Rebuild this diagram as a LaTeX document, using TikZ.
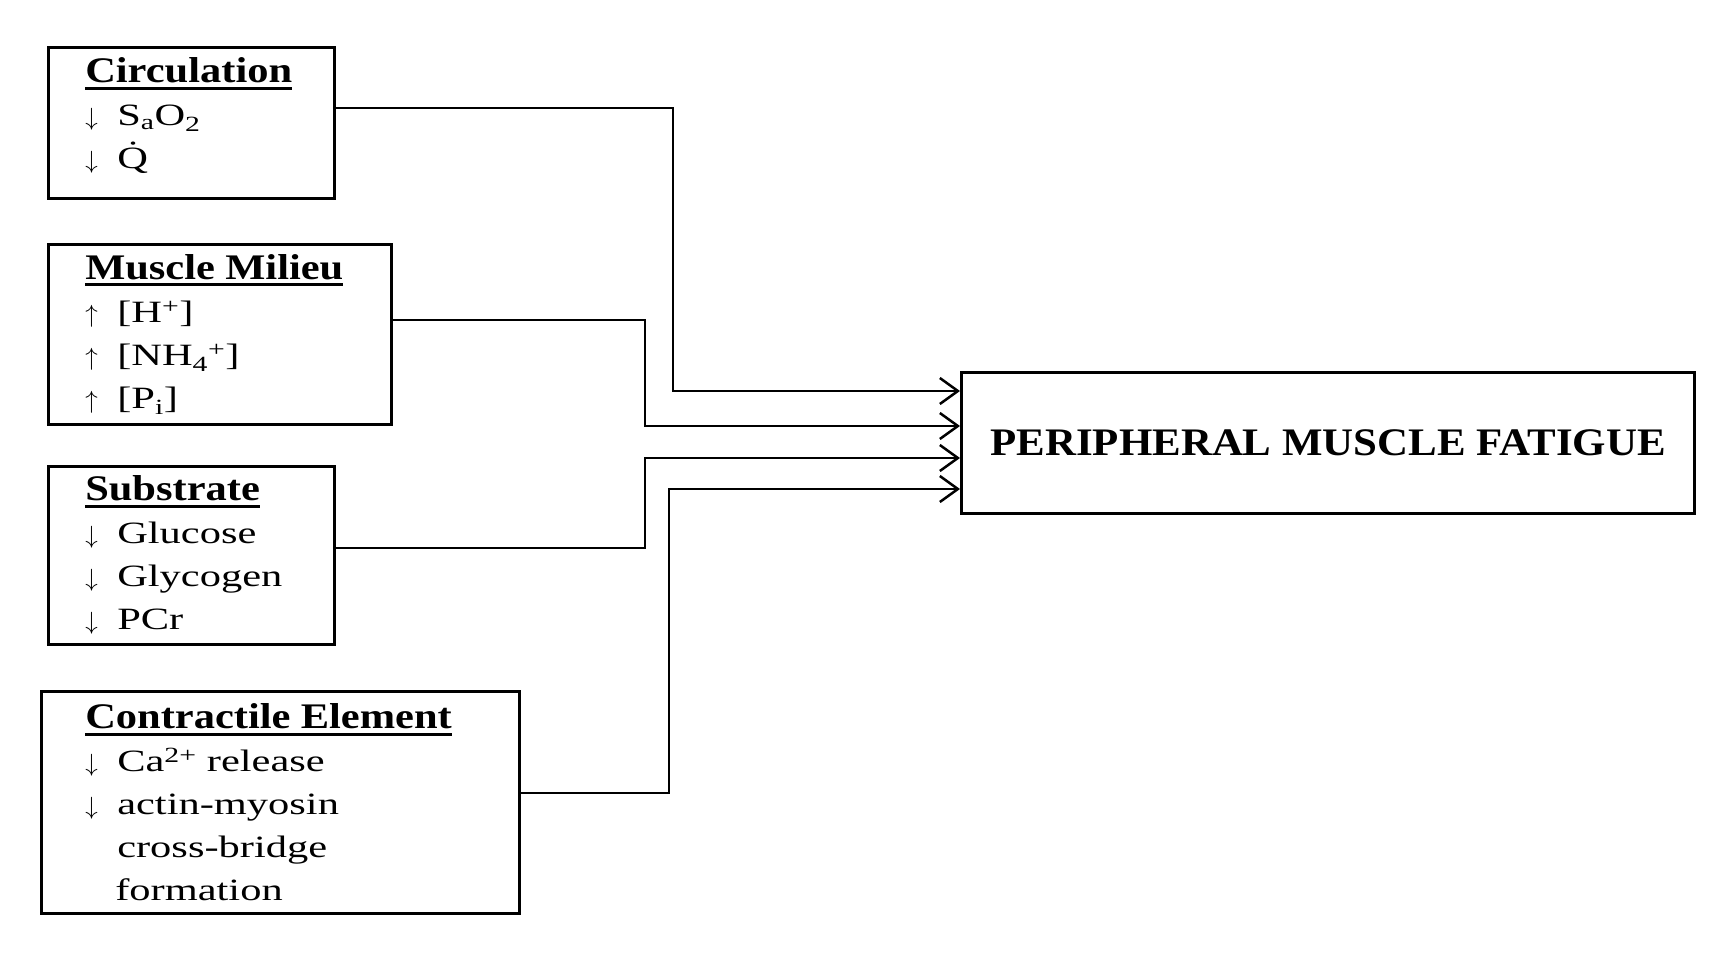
\documentclass[tikz,border=0pt]{standalone}
\usepackage{fontspec}
\setmainfont{Liberation Serif}[FakeStretch=1.37]
\newfontfamily\tfont{Liberation Serif}[FakeStretch=1.18]
\newfontfamily\pfont{Liberation Serif}[FakeStretch=1.1]
\usetikzlibrary{arrows.meta}
\newsavebox\ttlbox
\newcommand\ttl[1]{{\tfont\bfseries\fontsize{36}{43}\selectfont\sbox\ttlbox{#1}\rlap{\rule[-7pt]{\wd\ttlbox}{3pt}}\usebox\ttlbox}}
\newcommand\dn{\makebox[32pt][l]{$\downarrow$}}
\newcommand\up{\makebox[32pt][l]{$\uparrow$}}
\begin{document}
\begin{tikzpicture}[x=1pt,y=-1pt,
  box/.style={draw,line width=2.5pt,anchor=north west,align=left,
    inner ysep=0pt,font=\fontsize{31}{43}\selectfont},
  conn/.style={line width=2.5pt,-{Straight Barb[length=18pt,width=26pt,line width=2.5pt]}}]
\useasboundingbox (0,0) rectangle (1730,956);
\node[box,inner xsep=37pt,minimum width=286pt,minimum height=151pt,text width=212pt] (circ) at (47,46)
  {\ttl{Circulation}\\ \dn S\textsubscript{a}O\textsubscript{2}\\ \dn \.{Q}\rule[-19pt]{0pt}{1pt}};
\node[box,inner xsep=37pt,minimum width=343pt,minimum height=180pt,text width=269pt] (mm) at (47,243)
  {\ttl{Muscle Milieu}\\ \up [H\textsuperscript{+}]\\ \up [NH\textsubscript{4}\textsuperscript{+}]\\ \up [P\textsubscript{i}]};
\node[box,inner xsep=37pt,minimum width=286pt,minimum height=178pt,text width=212pt] (sub) at (47,465)
  {\ttl{Substrate}\\ \dn Glucose\\ \dn Glycogen\\ \dn PCr};
\node[box,inner xsep=44pt,minimum width=478pt,minimum height=222pt,text width=390pt] (con) at (40,690)
  {\ttl{Contractile Element}\\ \dn Ca\textsuperscript{2+} release\\ \dn actin-myosin\\ \hspace*{32pt}cross-bridge\\ \hspace*{30pt}formation};
\node[draw,line width=3pt,anchor=north west,minimum width=733pt,minimum height=141pt,
  font=\pfont\bfseries\fontsize{39}{43}\selectfont] (pmf) at (960,371) {PERIPHERAL MUSCLE FATIGUE};
\draw[conn] ([yshift=-62pt]circ.north east) -| ([xshift=-287pt,yshift=-20pt]pmf.north west) -- ([yshift=-20pt]pmf.north west);
\draw[conn] ([yshift=-77pt]mm.north east) -| ([xshift=-315pt,yshift=-55pt]pmf.north west) -- ([yshift=-55pt]pmf.north west);
\draw[conn] ([yshift=-83pt]sub.north east) -| ([xshift=-315pt,yshift=-87pt]pmf.north west) -- ([yshift=-87pt]pmf.north west);
\draw[conn] ([yshift=-103pt]con.north east) -| ([xshift=-291pt,yshift=-118pt]pmf.north west) -- ([yshift=-118pt]pmf.north west);
\end{tikzpicture}
\end{document}
